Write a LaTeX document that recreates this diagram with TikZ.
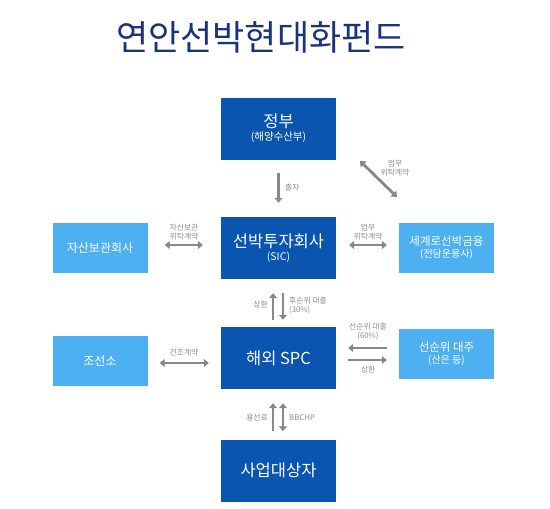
\documentclass[tikz,border=0pt]{standalone}
\usepackage{fontspec}
\setmainfont{Noto Sans CJK KR}
\usetikzlibrary{arrows.meta,calc}
\definecolor{navy}{HTML}{1A3479}
\definecolor{darkblue}{HTML}{0A55B0}
\definecolor{lightblue}{HTML}{4DB0F0}
\definecolor{arrgray}{HTML}{888888}
\definecolor{lblgray}{HTML}{8C8C8C}
\tikzset{
  darkbox/.style={fill=darkblue, text=white, minimum width=115pt, minimum height=62pt, inner sep=0pt, align=center},
  lightbox/.style={fill=lightblue, text=white, minimum width=95pt, minimum height=50pt, inner sep=0pt, align=center},
  conn/.style={draw=arrgray, line width=2.8pt},
  tipr/.style={-{Triangle[width=8pt,length=5pt]}},
  tipb/.style={{Triangle[width=8pt,length=5pt]}-{Triangle[width=8pt,length=5pt]}},
  lbl/.style={text=lblgray, font=\fontsize{7.8}{9}\selectfont, align=center, inner sep=0pt},
}
\begin{document}
\begin{tikzpicture}[x=1pt,y=-1pt]
\useasboundingbox (0,0) rectangle (550,509);
\node[text=navy, font=\fontsize{35}{38}\selectfont, inner sep=0pt] (title) at (261,37) {연안선박현대화펀드};

\node[darkbox] (gov) at (278.5,128.5) {{\fontsize{16.5}{18}\selectfont 정부}\\[1pt]{\fontsize{10.5}{12}\selectfont (해양수산부)}};
\node[darkbox] (sic) at (278.5,248) {{\fontsize{16.5}{18}\selectfont 선박투자회사}\\[1pt]{\fontsize{10.5}{12}\selectfont (SIC)}};
\node[darkbox] (spc) at (278.5,358) {\fontsize{16.5}{18}\selectfont 해외 SPC};
\node[darkbox] (biz) at (278.5,470.5) {\fontsize{16.5}{18}\selectfont 사업대상자};

\node[lightbox] (asset) at (100,248) {\fontsize{12}{14}\selectfont 자산보관회사};
\node[lightbox] (world) at (446.5,248) {{\fontsize{11.5}{13}\selectfont 세계로선박금융}\\[0pt]{\fontsize{10}{12}\selectfont (전담운용사)}};
\node[lightbox] (ship) at (100,361) {\fontsize{12}{14}\selectfont 조선소};
\node[lightbox] (senior) at (446.5,354) {{\fontsize{11.5}{13}\selectfont 선순위 대주}\\[0pt]{\fontsize{10}{12}\selectfont (산은 등)}};

% gov -> sic
\draw[conn,tipr] ($(gov.south)+(0,13)$) -- ($(sic.north)+(0,-14)$);
\node[lbl, anchor=west] (l1) at (285,188) {출자};

% gov <-> world diagonal
\coordinate (d1) at (360,161);
\coordinate (d2) at (397,197);
\draw[conn,tipb] (d1) -- (d2);
\node[lbl] (l2) at (395,168) {업무\\위탁계약};

% asset <-> sic
\draw[conn,tipb] ($(asset.east)+(17,-3)$) -- ($(sic.west)+(-18,-3)$);
\node[lbl] (l3) at (184,232) {자산보관\\위탁계약};

% sic <-> world
\draw[conn,tipb] ($(sic.east)+(13,-3)$) -- ($(world.west)+(-12,-3)$);
\node[lbl] (l4) at (368,232) {업무\\위탁계약};

% sic <-> spc
\draw[conn,tipr] ($(spc.north)+(-5.5,-7)$) -- ($(sic.south)+(-5.5,14)$);
\draw[conn,tipr] ($(sic.south)+(4.5,14)$) -- ($(spc.north)+(4.5,-7)$);
\node[lbl, anchor=east] (l5) at (268,305) {상환};
\node[lbl, anchor=west, align=left] (l6) at (289,306) {후순위 대출\\(30\%)};

% spc <-> senior
\draw[conn,tipr] ($(senior.west)+(-12,-6)$) -- ($(spc.east)+(12,-10)$);
\draw[conn,tipr] ($(spc.east)+(12,2)$) -- ($(senior.west)+(-12,6)$);
\node[lbl] (l7) at (368,332) {선순위 대출\\(60\%)};
\node[lbl] (l8) at (368,370) {상환};

% ship <-> spc
\draw[conn,tipb] ($(ship.east)+(12,2)$) -- ($(spc.west)+(-12,5)$);
\node[lbl] (l9) at (184,353) {건조계약};

% spc <-> biz
\draw[conn,tipr] ($(biz.north)+(-5.5,-8)$) -- ($(spc.south)+(-5.5,14)$);
\draw[conn,tipb] ($(spc.south)+(4.5,14)$) -- ($(biz.north)+(4.5,-8)$);
\node[lbl, anchor=east] (l10) at (268,418) {용선료};
\node[lbl, anchor=west] (l11) at (289,418) {BBCHP};
\end{tikzpicture}
\end{document}
